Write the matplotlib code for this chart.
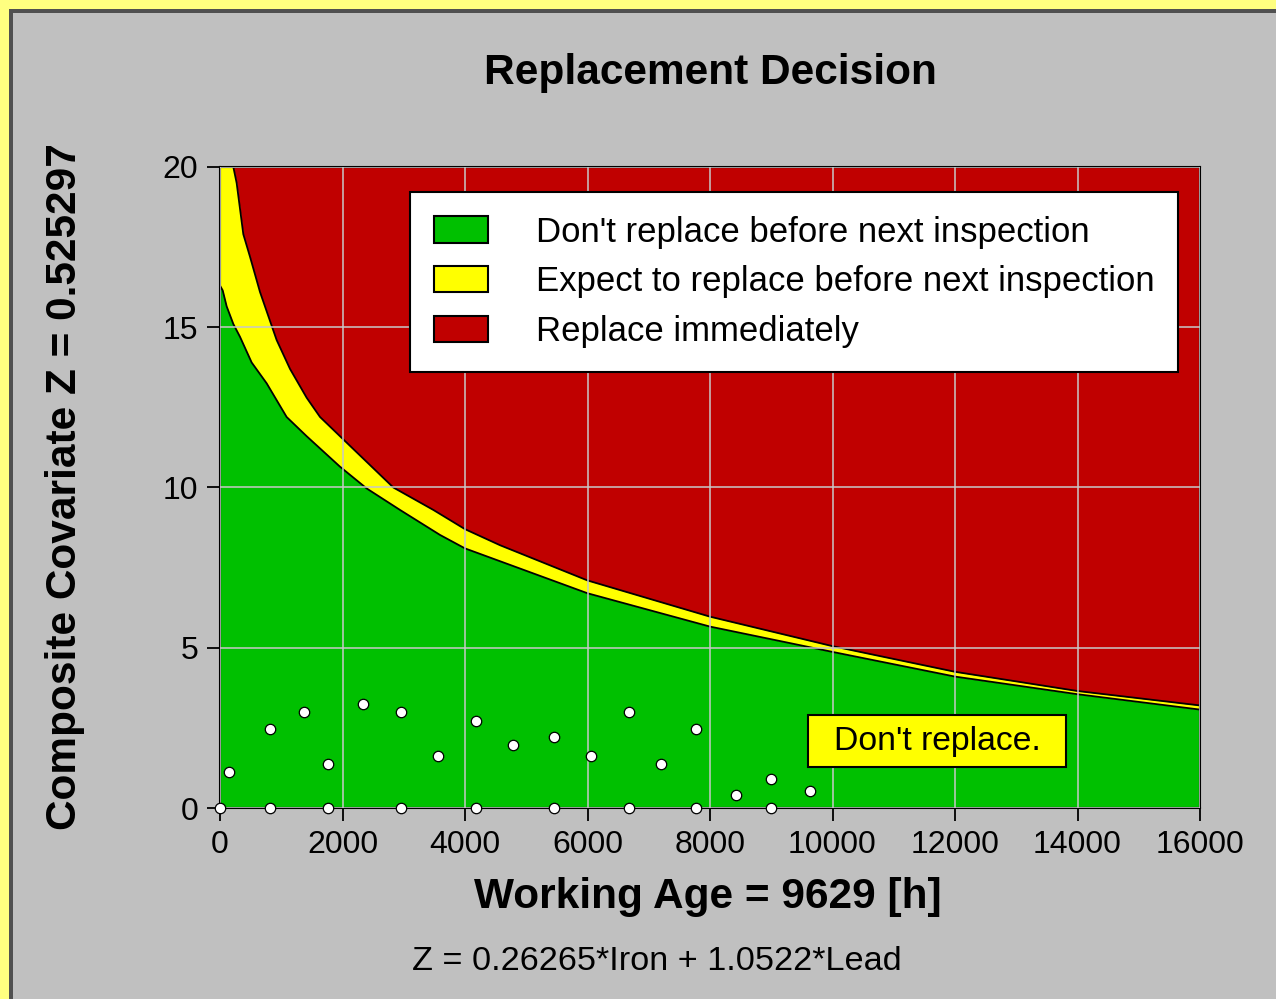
"""Replacement decision chart: working age vs composite covariate."""
import matplotlib

matplotlib.use("Agg")
import matplotlib.pyplot as plt
from matplotlib.patches import Patch, Rectangle

# boundary between "don't replace" and "expect to replace" (green / yellow)
age_lower = [0, 44, 109, 218, 327, 517, 762, 1088, 1415, 1959, 2395, 2939,
             3592, 4000, 6000, 8000, 10000, 12000, 14000, 16000]
z_lower = [16.3, 16.15, 15.65, 15.1, 14.7, 13.9, 13.25, 12.2, 11.6, 10.65, 9.97, 9.3,
           8.52, 8.1, 6.7, 5.66, 4.87, 4.1, 3.55, 3.07]

# boundary between "expect to replace" and "replace immediately" (yellow / red)
age_upper = [0, 218, 272, 381, 490, 653, 816, 925, 1143, 1415, 1633, 1959, 2231,
             2830, 3483, 4000, 4571, 6000, 8000, 10000, 12000, 14000, 16000]
z_upper = [22.5, 20.0, 19.5, 17.9, 17.2, 16.1, 15.2, 14.6, 13.7, 12.8, 12.2, 11.6, 11.1,
           10.0, 9.3, 8.7, 8.2, 7.1, 5.97, 5.05, 4.25, 3.65, 3.2]

# inspection history
sample_age = [0, 150, 810, 810, 1375, 1770, 1770, 2340, 2950, 2950, 3560, 4180, 4180,
              4790, 5445, 5445, 6056, 6670, 6670, 7200, 7775, 7775, 8430, 9000, 9000, 9629]
sample_z = [0, 1.13, 2.48, 0, 2.98, 1.37, 0, 3.23, 2.98, 0, 1.62, 2.72, 0,
            1.96, 2.21, 0, 1.62, 2.98, 0, 1.38, 2.48, 0, 0.40, 0.90, 0, 0.53]

legend_labels = ["Don't replace before next inspection",
                 "Expect to replace before next inspection",
                 "Replace immediately"]
x_ticks = [0, 2000, 4000, 6000, 8000, 10000, 12000, 14000, 16000]
y_ticks = [0, 5, 10, 15, 20]

GREEN = "#00c000"
YELLOW = "#ffff00"
RED = "#c00000"
BG = "#c0c0c0"

plt.rcParams["font.family"] = ["Liberation Sans", "DejaVu Sans"]

fig = plt.figure(figsize=(12.76, 9.99), dpi=100, facecolor=BG)
W, H = 1276, 999

# window frame: yellow strip and dark inner line on left / top
fig.patches.append(Rectangle((0, 0), 9 / W, 1, transform=fig.transFigure,
                             facecolor="#ffff80", edgecolor="none", zorder=-5))
fig.patches.append(Rectangle((0, 1 - 9 / H), 1, 9 / H, transform=fig.transFigure,
                             facecolor="#ffff80", edgecolor="none", zorder=-5))
fig.patches.append(Rectangle((9 / W, 0), 4 / W, 1 - 9 / H, transform=fig.transFigure,
                             facecolor="#505050", edgecolor="none", zorder=-4))
fig.patches.append(Rectangle((9 / W, 1 - 13 / H), 1, 4 / H, transform=fig.transFigure,
                             facecolor="#505050", edgecolor="none", zorder=-4))

ax = fig.add_axes([220 / W, 1 - 808 / H, 980 / W, 641 / H])
ax.set_facecolor(RED)

ax.fill_between(age_upper, 0, z_upper, color=YELLOW, lw=0, zorder=1)
ax.fill_between(age_lower, 0, z_lower, color=GREEN, lw=0, zorder=1.1)
ax.plot(age_upper, z_upper, color="black", lw=1.3, zorder=2)
ax.plot(age_lower, z_lower, color="black", lw=1.3, zorder=2)

ax.set_xlim(0, 16000)
ax.set_ylim(0, 20)
ax.set_xticks(x_ticks)
ax.set_yticks(y_ticks)
ax.set_axisbelow(False)
ax.grid(True, color="#c8c8c8", lw=1.1)
ax.tick_params(direction="out", length=9.5, width=1.3, colors="black",
               labelsize=23, pad=6)
for sp in ax.spines.values():
    sp.set_color("black")
    sp.set_linewidth(1.5)

ax.plot(sample_age, sample_z, linestyle="none", marker="o", markersize=7.5,
        markerfacecolor="white", markeredgecolor="black", markeredgewidth=0.9,
        clip_on=False, zorder=4)

handles = [Patch(facecolor=c, edgecolor="black", lw=1.5) for c in (GREEN, YELLOW, RED)]
leg = ax.legend(handles, legend_labels, loc="upper left", bbox_to_anchor=(0.194, 0.961),
                borderaxespad=0, fontsize=25, handlelength=1.55, handleheight=0.8,
                handletextpad=1.4, labelspacing=0.48, borderpad=0.68,
                fancybox=False, framealpha=1, edgecolor="black", facecolor="white")
leg.get_frame().set_linewidth(1.5)
leg.set_zorder(5)

# current decision tag
ax.add_patch(Rectangle((0.6, 0.064), 0.2633, 0.081, transform=ax.transAxes,
                       facecolor=YELLOW, edgecolor="black", lw=1.5, zorder=6))
ax.text(0.7316, 0.1045, "Don't replace.", transform=ax.transAxes, ha="center",
        va="center", fontsize=24.3, zorder=7)

fig.text(710 / W, 1 - 73 / H, "Replacement Decision", ha="center", va="center",
         fontsize=30.5, fontweight="bold")
fig.text(65 / W, 1 - 487 / H, "Composite Covariate Z = 0.525297", ha="center",
         va="center", rotation=90, fontsize=30.5, fontweight="bold")
fig.text(708 / W, 1 - 897 / H, "Working Age = 9629 [h]", ha="center", va="center",
         fontsize=30.5, fontweight="bold")
fig.text(657 / W, 1 - 962 / H, "Z = 0.26265*Iron + 1.0522*Lead", ha="center",
         va="center", fontsize=24.7)

fig.savefig("out.png", dpi=100, facecolor=BG)
